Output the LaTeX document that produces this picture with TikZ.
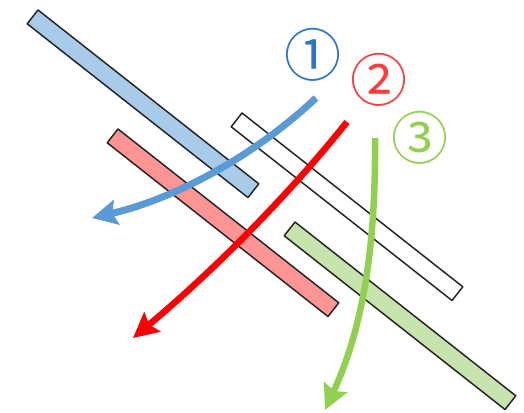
\documentclass[tikz,border=0pt]{standalone}
\usepackage{fontspec}
\newfontfamily\cjk{Noto Sans CJK JP}
\usetikzlibrary{arrows.meta}
\definecolor{barblue}{HTML}{A9CBEA}
\definecolor{barred}{HTML}{FF9494}
\definecolor{bargreen}{HTML}{C7E3AE}
\definecolor{arrblue}{HTML}{5B9BD5}
\definecolor{arrred}{HTML}{FF0000}
\definecolor{arrgreen}{HTML}{92D050}
\definecolor{lblblue}{HTML}{2E75C6}
\definecolor{lblred}{HTML}{FF3B3B}
\definecolor{lblgreen}{HTML}{92D050}
\tikzset{
  bar/.style={draw=black!85, line width=1.5pt, line join=round},
  flow/.style={line width=6.5pt, -{Stealth[length=25pt,width=25pt,inset=4pt]}},
  lbl/.style={font=\cjk\fontsize{57}{57}\selectfont, inner sep=0pt}
}
\begin{document}
\begin{tikzpicture}[x=1pt,y=-1pt]
\useasboundingbox (0,0) rectangle (524,412);
% bars
\draw[bar, fill=barblue] (38,10) -- (258.8,183.8) -- (248,197.6) -- (27.2,23.8) -- cycle;
\draw[bar, fill=barred] (118,129) -- (338.8,302.8) -- (328,316.5) -- (107.2,142.8) -- cycle;
\draw[bar, fill=white] (242,113) -- (462.8,286.8) -- (452,300.5) -- (231.2,126.8) -- cycle;
\draw[bar, fill=bargreen] (295,222) -- (515.8,395.8) -- (505,409.5) -- (284.2,235.8) -- cycle;
% arrow ends
\coordinate (b0) at (316,98);  \coordinate (b1) at (92,218);
\coordinate (r0) at (347,122); \coordinate (r1) at (133,338);
\coordinate (g0) at (375,138); \coordinate (g1) at (325,410);
\draw[flow, arrblue, line width=7pt] (b0) .. controls (250,160) and (170,200) .. (b1);
\draw[flow, arrred] (r0) .. controls (291,192) and (217,268) .. (r1);
\draw[flow, arrgreen] (g0) .. controls (376,250) and (362,330) .. (g1);
% labels
\node[lbl, text=lblblue] (l1) at (313,55) {①};
\node[lbl, text=lblred] (l2) at (379,80) {②};
\node[lbl, text=lblgreen] (l3) at (420,138) {③};
\end{tikzpicture}
\end{document}
